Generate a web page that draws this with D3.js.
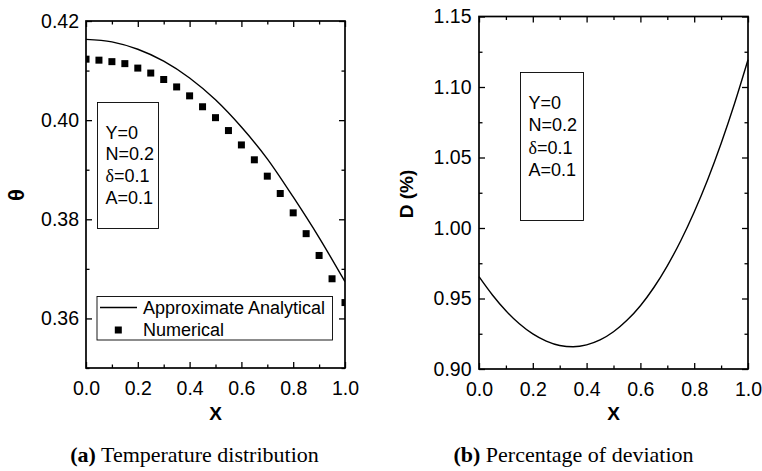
<!DOCTYPE html>
<html>
<head>
<meta charset="utf-8">
<script src="https://cdn.jsdelivr.net/npm/d3@7/dist/d3.min.js"></script>
<style>
  html, body { margin: 0; padding: 0; background: #fff; }
  svg { display: block; }
  text { font-family: "Liberation Sans", Arial, sans-serif; fill: #000; }
</style>
</head>
<body>
<svg id="chart" width="762" height="471"></svg>
<script>
// ---------- data ----------
const xMajorTicks = [0, 0.2, 0.4, 0.6, 0.8, 1.0];
const xMinorTicks = [0.1, 0.3, 0.5, 0.7, 0.9];

// Panel (a) Temperature distribution
const thetaYTicks = [0.36, 0.38, 0.40, 0.42];
const thetaYMinor = [0.35, 0.37, 0.39, 0.41];
const analyticalX = [0, 0.1, 0.2, 0.3, 0.4, 0.5, 0.6, 0.7, 0.8, 0.9, 1.0];
const analyticalTheta = [0.4163, 0.4158, 0.4143, 0.4119, 0.4085, 0.4041, 0.3986, 0.3922, 0.3845, 0.3763, 0.3674];
const numericalX = [0, 0.05, 0.1, 0.15, 0.2, 0.25, 0.3, 0.35, 0.4, 0.45, 0.5, 0.55, 0.6, 0.65, 0.7, 0.75, 0.8, 0.85, 0.9, 0.95, 1.0];
const numericalTheta = [0.4123, 0.4121, 0.4118, 0.4114, 0.4105, 0.4095, 0.4082, 0.4067, 0.4049, 0.4027, 0.4005, 0.3979, 0.3950, 0.3920, 0.3887, 0.3852, 0.3813, 0.3771, 0.3727, 0.3680, 0.3632];

// Panel (b) Percentage of deviation
const devYTicks = [0.90, 0.95, 1.00, 1.05, 1.10, 1.15];
const devYMinor = [0.925, 0.975, 1.025, 1.075, 1.125];
const devX = [0, 0.05, 0.1, 0.15, 0.2, 0.25, 0.3, 0.35, 0.4, 0.45, 0.5, 0.55, 0.6, 0.65, 0.7, 0.75, 0.8, 0.85, 0.9, 0.95, 1.0];
const deviation = [0.9655, 0.9525, 0.9413, 0.9321, 0.9249, 0.9198, 0.9167, 0.9158, 0.9171, 0.9206, 0.9264, 0.9345, 0.9449, 0.9578, 0.9732, 0.9910, 1.0114, 1.0343, 1.0600, 1.0883, 1.1193];

const paramLines = ["Y=0", "N=0.2", "δ=0.1", "A=0.1"];
const legendLabels = ["Approximate Analytical", "Numerical"];

// ---------- drawing ----------
const svg = d3.select("#chart");
const MAJ = 6, MIN = 3.5;
const TICK_FONT = "19.5px";

function drawFrame(g, x, y, yMajor, yMinor, yFmt, yPad) {
  const w = x.range()[1], h = y.range()[0];
  const style = sel => {
    sel.select(".domain").remove();
    sel.selectAll("line").attr("stroke", "#000").attr("stroke-width", 1.3);
    sel.selectAll("text").style("font-size", TICK_FONT).style("font-family", "'Liberation Sans', Arial, sans-serif");
  };
  g.append("g").attr("transform", `translate(0,${h})`)
    .call(d3.axisBottom(x).tickValues(xMajorTicks).tickSizeInner(-MAJ).tickSizeOuter(0).tickPadding(13).tickFormat(d3.format(".1f")))
    .call(style);
  g.append("g").attr("transform", `translate(0,${h})`)
    .call(d3.axisBottom(x).tickValues(xMinorTicks).tickSizeInner(-MIN).tickSizeOuter(0).tickFormat(""))
    .call(style);
  g.append("g")
    .call(d3.axisTop(x).tickValues(xMajorTicks).tickSizeInner(-MAJ).tickSizeOuter(0).tickFormat(""))
    .call(style);
  g.append("g")
    .call(d3.axisTop(x).tickValues(xMinorTicks).tickSizeInner(-MIN).tickSizeOuter(0).tickFormat(""))
    .call(style);
  g.append("g")
    .call(d3.axisLeft(y).tickValues(yMajor).tickSizeInner(-MAJ).tickSizeOuter(0).tickPadding(yPad).tickFormat(d3.format(yFmt)))
    .call(style);
  g.append("g")
    .call(d3.axisLeft(y).tickValues(yMinor).tickSizeInner(-MIN).tickSizeOuter(0).tickFormat(""))
    .call(style);
  g.append("g").attr("transform", `translate(${w},0)`)
    .call(d3.axisRight(y).tickValues(yMajor).tickSizeInner(-MAJ).tickSizeOuter(0).tickFormat(""))
    .call(style);
  g.append("g").attr("transform", `translate(${w},0)`)
    .call(d3.axisRight(y).tickValues(yMinor).tickSizeInner(-MIN).tickSizeOuter(0).tickFormat(""))
    .call(style);
  g.append("rect").attr("x", 0).attr("y", 0).attr("width", w).attr("height", h)
    .attr("fill", "none").attr("stroke", "#000").attr("stroke-width", 1.7);
}

function paramBox(g, bx, by, bw, bh, tx, ty0, dy) {
  g.append("rect").attr("x", bx).attr("y", by).attr("width", bw).attr("height", bh)
    .attr("fill", "#fff").attr("stroke", "#000").attr("stroke-width", 0.9);
  paramLines.forEach((s, i) => {
    const t = g.append("text").attr("x", tx).attr("y", ty0 + i * dy).style("font-size", "18px");
    if (s.startsWith("δ")) {
      t.append("tspan").text("δ").style("font-family", "'Liberation Serif', 'Times New Roman', serif");
      t.append("tspan").text(s.slice(1));
    } else t.text(s);
  });
}

// ----- Panel (a)
{
  const left = 86, top = 21, W = 259, H = 347;
  const g = svg.append("g").attr("transform", `translate(${left},${top})`);
  const x = d3.scaleLinear().domain([0, 1]).range([0, W]);
  const y = d3.scaleLinear().domain([0.35, 0.42]).range([H, 0]);

  g.append("clipPath").attr("id", "clipA").append("rect").attr("width", W).attr("height", H);

  const line = d3.line().x((d, i) => x(analyticalX[i])).y(d => y(d)).curve(d3.curveMonotoneX);
  g.append("path").datum(analyticalTheta).attr("d", line).attr("fill", "none")
    .attr("stroke", "#000").attr("stroke-width", 1.4).attr("clip-path", "url(#clipA)");

  const S = 7;
  g.append("g").attr("clip-path", "url(#clipA)").selectAll("rect").data(numericalTheta).join("rect")
    .attr("x", (d, i) => x(numericalX[i]) - S / 2).attr("y", d => y(d) - S / 2)
    .attr("width", S).attr("height", S).attr("fill", "#000");

  drawFrame(g, x, y, thetaYTicks, thetaYMinor, ".2f", 7);

  paramBox(g, 11.5, 81.5, 61, 126, 19.5, 117.5, 21.7);

  const lg = g.append("g");
  lg.append("rect").attr("x", 11).attr("y", 275.5).attr("width", 235.5).attr("height", 43.5)
    .attr("fill", "#fff").attr("stroke", "#000").attr("stroke-width", 0.9);
  lg.append("line").attr("x1", 14).attr("x2", 51).attr("y1", 286.5).attr("y2", 286.5)
    .attr("stroke", "#000").attr("stroke-width", 1.4);
  lg.append("rect").attr("x", 32.3 - S / 2).attr("y", 309 - S / 2).attr("width", S).attr("height", S).attr("fill", "#000");
  lg.append("text").attr("x", 57).attr("y", 292.5).style("font-size", "18px").text(legendLabels[0]);
  lg.append("text").attr("x", 57).attr("y", 315).style("font-size", "18px").text(legendLabels[1]);

  svg.append("text").attr("transform", `translate(24,195) rotate(-90)`).attr("text-anchor", "middle")
    .style("font-size", "22px").style("font-weight", "bold").text("θ");
  svg.append("text").attr("x", left + W / 2).attr("y", 420).attr("text-anchor", "middle")
    .style("font-size", "19px").style("font-weight", "bold").text("X");
}

// ----- Panel (b)
{
  const left = 479, top = 16.5, W = 269, H = 352.5;
  const g = svg.append("g").attr("transform", `translate(${left},${top})`);
  const x = d3.scaleLinear().domain([0, 1]).range([0, W]);
  const y = d3.scaleLinear().domain([0.90, 1.15]).range([H, 0]);

  const line = d3.line().x((d, i) => x(devX[i])).y(d => y(d)).curve(d3.curveMonotoneX);
  g.append("path").datum(deviation).attr("d", line).attr("fill", "none")
    .attr("stroke", "#000").attr("stroke-width", 1.4);

  drawFrame(g, x, y, devYTicks, devYMinor, ".2f", 7.5);

  paramBox(g, 41.5, 56, 63, 148, 49.5, 92, 22.6);

  svg.append("text").attr("transform", `translate(413,194) rotate(-90)`).attr("text-anchor", "middle")
    .style("font-size", "19px").style("font-weight", "bold").text("D (%)");
  svg.append("text").attr("x", left + W / 2).attr("y", 420).attr("text-anchor", "middle")
    .style("font-size", "19px").style("font-weight", "bold").text("X");
}

// captions
const capFont = "'Liberation Serif', 'Times New Roman', serif";
function caption(cx, letter, rest) {
  const t = svg.append("text").attr("x", cx).attr("y", 462).attr("text-anchor", "middle")
    .style("font-family", capFont).style("font-size", "22px");
  t.append("tspan").style("font-weight", "bold").style("font-family", capFont).text(`(${letter})`);
  t.append("tspan").style("font-family", capFont).text(" " + rest);
}
caption(194.5, "a", "Temperature distribution");
caption(573.5, "b", "Percentage of deviation");
</script>
</body>
</html>
